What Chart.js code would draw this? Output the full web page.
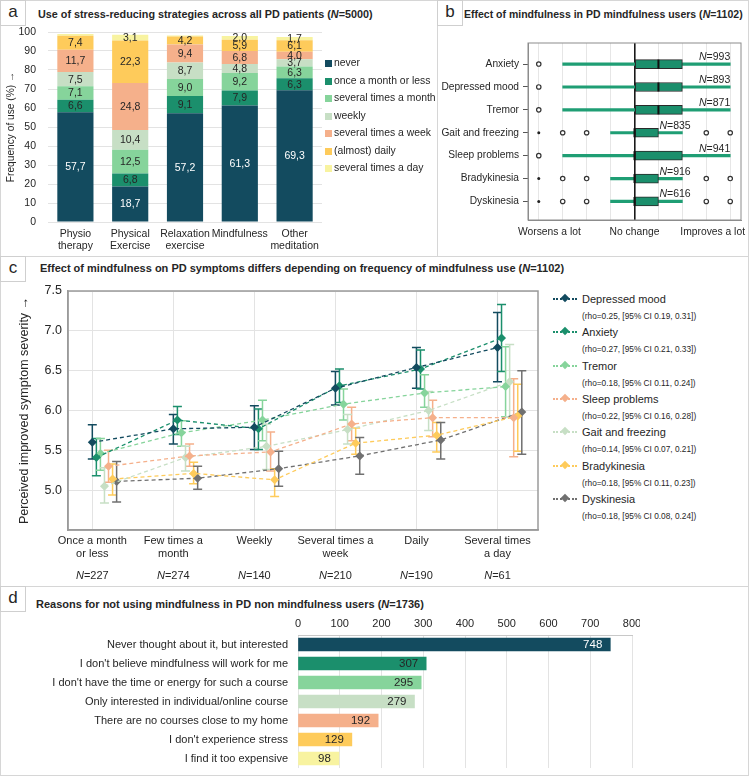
<!DOCTYPE html>
<html>
<head>
<meta charset="utf-8">
<script src="https://cdn.jsdelivr.net/npm/chart.js@4.4.1/dist/chart.umd.min.js"></script>
<style>
body { margin: 0; background: #fff; font-family: "Liberation Sans", Arial, "DejaVu Sans", sans-serif; color: #262626; }
#page { position: relative; width: 749px; height: 776px; overflow: hidden; }
.panel { position: absolute; border: 1px solid #d6d6d6; box-sizing: border-box; }
.letter { position: absolute; width: 26px; height: 26px; border: 1px solid #cfcfcf; box-sizing: border-box; background: #fff; font-size: 17px; line-height: 22px; text-align: center; }
.title { position: absolute; font-weight: bold; font-size: 11px; line-height: 14px; white-space: nowrap; }
.box { position: absolute; }
.litem { position: absolute; left: 0; font-size: 10.4px; line-height: 14px; white-space: nowrap; }
.lsq { position: absolute; left: 0; top: 4px; width: 7px; height: 7px; }
.ltxt { position: absolute; left: 9px; top: 0; }
.citem { position: absolute; left: 0; white-space: nowrap; }
.cmark { position: absolute; left: 0; top: 7px; width: 24px; height: 0; border-top: 2px dotted; }
.dia { position: absolute; left: 9px; top: -5px; width: 6px; height: 6px; transform: rotate(45deg); }
.cname { position: absolute; left: 29px; top: 0; font-size: 11px; line-height: 16px; }
.crho { position: absolute; left: 29px; top: 20px; font-size: 8.3px; line-height: 10px; }
</style>
</head>
<body>
<div id="page">
  <div class="panel" style="left:0;top:0;width:438px;height:257px"></div>
  <div class="panel" style="left:437px;top:0;width:312px;height:257px"></div>
  <div class="panel" style="left:0;top:256px;width:749px;height:331px"></div>
  <div class="panel" style="left:0;top:586px;width:749px;height:190px"></div>

  <div class="letter" style="left:0;top:0">a</div>
  <div class="letter" style="left:437px;top:0">b</div>
  <div class="letter" style="left:0;top:256px">c</div>
  <div class="letter" style="left:0;top:586px">d</div>

  <div class="title" style="left:38px;top:7px;font-size:10.8px">Use of stress-reducing strategies across all PD patients (<i>N</i>=5000)</div>
  <div class="title" style="left:464px;top:7px;font-size:10.5px">Effect of mindfulness in PD mindfulness users (<i>N</i>=1102)</div>
  <div class="title" style="left:40px;top:261px">Effect of mindfulness on PD symptoms differs depending on frequency of mindfulness use (<i>N</i>=1102)</div>
  <div class="title" style="left:36px;top:597px">Reasons for not using mindfulness in PD non mindfulness users (<i>N</i>=1736)</div>

  <div class="box" style="left:0;top:24px;width:326px;height:232px"><canvas id="chartA"></canvas></div>
  <div class="box" id="legA" style="left:325px;top:56px;width:110px;height:130px"></div>
  <div class="box" style="left:440px;top:26px;width:309px;height:228px"><canvas id="chartB"></canvas></div>
  <div class="box" style="left:0;top:283px;width:545px;height:300px"><canvas id="chartC"></canvas></div>
  <div class="box" id="legC" style="left:553px;top:291px;width:190px;height:240px"></div>
  <div class="box" style="left:0;top:610px;width:640px;height:163px"><canvas id="chartD"></canvas></div>
</div>

<script>
// ---------- data: panel a (percent of patients) ----------
const strategies = [['Physio', 'therapy'], ['Physical', 'Exercise'], ['Relaxation', 'exercise'], 'Mindfulness', ['Other', 'meditation']];
const freqCats = ['never', 'once a month or less', 'several times a month', 'weekly', 'several times a week', '(almost) daily', 'several times a day'];
const useNever     = [57.7, 18.7, 57.2, 61.3, 69.3];
const useOnceMonth = [6.6, 6.8, 9.1, 7.9, 6.3];
const useSevMonth  = [7.1, 12.5, 9.0, 9.2, 6.3];
const useWeekly    = [7.5, 10.4, 8.7, 4.8, 3.7];
const useSevWeek   = [11.7, 24.8, 9.4, 6.8, 4.0];
const useDaily     = [7.4, 22.3, 4.2, 5.9, 6.1];
const useSevDay    = [1.0, 3.1, 0.6, 2.0, 1.7];

// ---------- data: panel b (box plots, -4 worsens a lot .. 4 improves a lot) ----------
const symptomsB = ['Anxiety', 'Depressed mood', 'Tremor', 'Gait and freezing', 'Sleep problems', 'Bradykinesia', 'Dyskinesia'];
const effectTickLabels = { '-4': 'Worsens a lot', '0': 'No change', '4': 'Improves a lot' };
const boxQ1     = [0, 0, 0, 0, 0, 0, 0];
const boxQ3     = [2, 2, 2, 1, 2, 1, 1];
const boxMedian = [1, 1, 1, 0, 0, 0, 0];
const whiskerLo = [-3, -3, -3, -1, -3, -1, -1];
const whiskerHi = [4, 4, 4, 2, 4, 2, 2];
const outliers  = [[-4], [-4], [-4], [-3, -2, 3, 4], [-4], [-3, -2, 3, 4], [-3, -2, 3, 4]];
const extremes  = [[], [], [], [-4], [], [-4], [-4]];
const symptomN  = [993, 893, 871, 835, 941, 916, 616];

// ---------- data: panel c (mean and 95% CI per frequency) ----------
const freqLabels = [['Once a month', 'or less'], ['Few times a', 'month'], 'Weekly', ['Several times a', 'week'], 'Daily', ['Several times', 'a day']];
const freqN = [227, 274, 140, 210, 190, 61];

const moodMean = [5.60, 5.77, 5.79, 6.28, 6.54, 6.79];
const moodLo   = [5.39, 5.58, 5.51, 6.07, 6.28, 6.36];
const moodHi   = [5.82, 5.95, 6.06, 6.49, 6.79, 7.23];
const anxMean  = [5.41, 5.88, 5.77, 6.31, 6.52, 6.91];
const anxLo    = [5.18, 5.70, 5.51, 6.10, 6.27, 6.49];
const anxHi    = [5.65, 6.05, 6.02, 6.52, 6.76, 7.33];
const tremMean = [5.46, 5.72, 5.88, 6.08, 6.22, 6.30];
const tremLo   = [5.25, 5.55, 5.62, 5.88, 6.04, 5.92];
const tremHi   = [5.65, 5.87, 6.13, 6.27, 6.45, 6.80];
const sleepMean = [5.30, 5.43, 5.48, 5.83, 5.91, 5.91];
const sleepLo   = [5.10, 5.30, 5.24, 5.62, 5.67, 5.42];
const sleepHi   = [5.50, 5.58, 5.73, 6.04, 6.13, 6.40];
const gaitMean = [5.05, 5.41, 5.55, 5.76, 6.00, 6.36];
const gaitLo   = [4.84, 5.24, 5.26, 5.58, 5.75, 5.92];
const gaitHi   = [5.28, 5.55, 5.83, 5.95, 6.24, 6.83];
const bradyMean = [5.14, 5.21, 5.13, 5.59, 5.69, 5.93];
const bradyLo   = [4.94, 5.08, 4.92, 5.45, 5.48, 5.49];
const bradyHi   = [5.33, 5.35, 5.27, 5.78, 5.85, 6.33];
const dyskMean = [5.11, 5.15, 5.27, 5.43, 5.63, 5.98];
const dyskLo   = [4.85, 5.01, 5.05, 5.20, 5.39, 5.45];
const dyskHi   = [5.36, 5.30, 5.49, 5.66, 5.85, 6.50];

const symptomsC = ['Depressed mood', 'Anxiety', 'Tremor', 'Sleep problems', 'Gait and freezing', 'Bradykinesia', 'Dyskinesia'];
const rhoText = [
  '(rho=0.25, [95% CI 0.19, 0.31])',
  '(rho=0.27, [95% CI 0.21, 0.33])',
  '(rho=0.18, [95% CI 0.11, 0.24])',
  '(rho=0.22, [95% CI 0.16, 0.28])',
  '(rho=0.14, [95% CI 0.07, 0.21])',
  '(rho=0.18, [95% CI 0.11, 0.23])',
  '(rho=0.18, [95% CI 0.08, 0.24])'
];

// ---------- data: panel d ----------
const reasons = [
  'Never thought about it, but interested',
  "I don't believe mindfulness will work for me",
  "I don't have the time or energy for such a course",
  'Only interested in individual/online course',
  'There are no courses close to my home',
  "I don't experience stress",
  'I find it too expensive'
];
const reasonCounts = [748, 307, 295, 279, 192, 129, 98];

// ---------- styling ----------
const FONT = '"Liberation Sans", Arial, "DejaVu Sans", sans-serif';
Chart.defaults.font.family = FONT;
Chart.defaults.color = '#262626';
Chart.defaults.animation = false;

const palette = ['#134b5f', '#1b8f6c', '#86d49b', '#c7dfc5', '#f5b08b', '#fecb5b', '#f8f3a0'];
const symptomColors = ['#134b5f', '#1b8f6c', '#86d49b', '#f5b08b', '#c7dfc5', '#fecb5b', '#707070'];
const symptomSlot = [0, 1, 2, 4, 3, 5, 6]; // horizontal dodge order within a category
const DODGE = 0.05;

// fixed axis sizes, no extra padding for overhanging tick labels
function fixWidth(w) {
  return s => { s.width = w; s.paddingTop = 0; s.paddingBottom = 0; };
}
function fixHeight(h) {
  return s => { s.height = h; s.paddingLeft = 0; s.paddingRight = 0; };
}

// frame around the plot area
const framePlugin = {
  id: 'frame',
  afterDraw(chart, args, opts) {
    if (!opts.color) return;
    const { ctx, chartArea: a } = chart;
    ctx.save();
    ctx.strokeStyle = opts.color;
    ctx.lineWidth = opts.width || 1;
    ctx.strokeRect(a.left, a.top, a.right - a.left, a.bottom - a.top);
    ctx.restore();
  }
};
Chart.register(framePlugin);

// text with an italic N
function drawNText(ctx, n, x, y, size, align) {
  const rest = '=' + n;
  ctx.font = 'italic ' + size + 'px ' + FONT;
  const wN = ctx.measureText('N').width;
  ctx.font = size + 'px ' + FONT;
  const wR = ctx.measureText(rest).width;
  let left = x;
  if (align === 'center') left = x - (wN + wR) / 2;
  if (align === 'right') left = x - wN - wR;
  ctx.textAlign = 'left';
  ctx.font = 'italic ' + size + 'px ' + FONT;
  ctx.fillText('N', left, y);
  ctx.font = size + 'px ' + FONT;
  ctx.fillText(rest, left + wN, y);
}

// ---------- panel a ----------
const stackLabels = {
  id: 'stackLabels',
  afterDatasetsDraw(chart) {
    const ctx = chart.ctx;
    ctx.save();
    ctx.font = '10.5px ' + FONT;
    ctx.textAlign = 'center';
    ctx.textBaseline = 'middle';
    chart.data.datasets.forEach((ds, di) => {
      chart.getDatasetMeta(di).data.forEach((bar, i) => {
        const v = ds.data[i];
        if (v < 1.5) return;
        ctx.fillStyle = di === 0 ? '#ffffff' : '#262626';
        ctx.fillText(v.toFixed(1).replace('.', ','), bar.x, (bar.y + bar.base) / 2 + 0.5);
      });
    });
    ctx.restore();
  }
};

const useSeries = [useNever, useOnceMonth, useSevMonth, useWeekly, useSevWeek, useDaily, useSevDay];
new Chart(document.getElementById('chartA'), {
  type: 'bar',
  data: {
    labels: strategies,
    datasets: useSeries.map((d, i) => ({
      label: freqCats[i],
      data: d,
      backgroundColor: palette[i],
      barPercentage: 0.66,
      categoryPercentage: 1
    }))
  },
  options: {
    responsive: true,
    maintainAspectRatio: false,
    layout: { padding: { top: 8, right: 4 } },
    plugins: { legend: { display: false }, tooltip: { enabled: false } },
    scales: {
      x: {
        stacked: true,
        grid: { display: false, drawTicks: false },
        border: { display: false },
        ticks: { font: { size: 10.5, lineHeight: 1.18 }, padding: 6, maxRotation: 0, autoSkip: false },
        afterFit: fixHeight(34)
      },
      y: {
        stacked: true,
        min: 0,
        max: 100,
        ticks: { stepSize: 10, padding: 12, font: { size: 10.5 } },
        grid: { color: '#e3e3e3', drawTicks: false },
        border: { display: false },
        title: { display: true, text: 'Frequency of use (%) →', font: { size: 10.2 }, padding: { top: 5, bottom: 0 } },
        afterFit: fixWidth(48)
      }
    }
  },
  plugins: [stackLabels]
});

// legend a
const legA = document.getElementById('legA');
freqCats.forEach((name, i) => {
  const it = document.createElement('div');
  it.className = 'litem';
  it.style.top = (i * 17.5) + 'px';
  it.innerHTML = '<span class="lsq" style="background:' + palette[i] + '"></span><span class="ltxt">' + name + '</span>';
  legA.appendChild(it);
});

// ---------- panel b ----------
const boxNLabels = {
  id: 'boxNLabels',
  afterDatasetsDraw(chart) {
    const { ctx, scales: { x, y } } = chart;
    ctx.save();
    ctx.fillStyle = '#262626';
    ctx.textBaseline = 'alphabetic';
    symptomN.forEach((n, i) => {
      const yy = y.getPixelForValue(i) - 4;
      if (whiskerHi[i] >= 4) drawNText(ctx, n, x.getPixelForValue(whiskerHi[i]), yy, 10.5, 'right');
      else drawNText(ctx, n, x.getPixelForValue(boxQ3[i]) + 1, yy, 10.5, 'left');
    });
    // x tick labels kept inside the panel
    ctx.font = '10.3px ' + FONT;
    ctx.textBaseline = 'middle';
    ctx.textAlign = 'left';
    Object.keys(effectTickLabels).forEach(k => {
      const txt = effectTickLabels[k];
      const w = ctx.measureText(txt).width;
      let left = x.getPixelForValue(Number(k)) - w / 2;
      left = Math.max(left, chart.chartArea.left - 10);
      left = Math.min(left, chart.width - 4 - w);
      ctx.fillText(txt, left, chart.chartArea.bottom + 12);
    });
    ctx.restore();
  }
};

new Chart(document.getElementById('chartB'), {
  type: 'bar',
  data: {
    datasets: [
      {
        type: 'line', label: 'median',
        data: symptomsB.map((_, i) => ({ x: boxMedian[i], y: i })),
        showLine: false, pointStyle: 'line', rotation: 90, pointRadius: 4.5,
        borderColor: '#111', borderWidth: 2
      },
      {
        type: 'line', label: 'outlier',
        data: outliers.flatMap((vals, i) => vals.map(v => ({ x: v, y: i }))),
        showLine: false, pointStyle: 'circle', pointRadius: 2.2,
        borderColor: '#333', backgroundColor: '#fff', borderWidth: 1.2
      },
      {
        type: 'line', label: 'extreme',
        data: extremes.flatMap((vals, i) => vals.map(v => ({ x: v, y: i }))),
        showLine: false, pointStyle: 'circle', pointRadius: 1.5,
        borderColor: '#222', backgroundColor: '#222', borderWidth: 0
      },
      {
        label: 'box',
        data: symptomsB.map((_, i) => ({ y: i, x: [boxQ1[i], boxQ3[i]] })),
        backgroundColor: '#1b8f6c', borderColor: '#2a2a2a', borderWidth: 1,
        borderSkipped: false, barThickness: 9, grouped: false
      },
      {
        label: 'whisker',
        data: symptomsB.map((_, i) => ({ y: i, x: [whiskerLo[i], whiskerHi[i]] })),
        backgroundColor: '#1f9e74', barThickness: 2.5, grouped: false
      }
    ]
  },
  options: {
    indexAxis: 'y',
    responsive: true,
    maintainAspectRatio: false,
    layout: { padding: { top: 17, right: 8 } },
    plugins: { legend: { display: false }, tooltip: { enabled: false }, frame: { color: '#8c8c8c', width: 1 } },
    scales: {
      x: {
        type: 'linear', min: -4.45, max: 4.45,
        afterBuildTicks: s => { s.ticks = [-4, -3, -2, -1, 0, 1, 2, 3, 4].map(v => ({ value: v })); },
        ticks: { display: false },
        grid: {
          color: c => (c.tick && c.tick.value === 0) ? '#1a1a1a' : '#e6e6e6',
          lineWidth: c => (c.tick && c.tick.value === 0) ? 1.6 : 1,
          drawTicks: false
        },
        border: { color: '#8c8c8c' },
        afterFit: fixHeight(34)
      },
      y: {
        type: 'linear', reverse: true, offset: false, min: -0.92, max: 6.81,
        afterBuildTicks: s => { s.ticks = symptomsB.map((_, i) => ({ value: i })); },
        ticks: { callback: v => symptomsB[v], font: { size: 10.2 }, padding: 4, autoSkip: false },
        grid: { drawOnChartArea: false, offset: false, tickLength: 5, color: '#555' },
        border: { color: '#8c8c8c' },
        afterFit: fixWidth(88)
      }
    }
  },
  plugins: [boxNLabels]
});

// ---------- panel c ----------
const errorBars = {
  id: 'errorBars',
  beforeDatasetsDraw(chart) {
    const { ctx, scales: { x, y } } = chart;
    ctx.save();
    chart.data.datasets.forEach(ds => {
      ctx.strokeStyle = ds.borderColor;
      ctx.lineWidth = 1.5;
      ds.data.forEach((p, i) => {
        const px = x.getPixelForValue(p.x);
        const top = y.getPixelForValue(ds.errHi[i]);
        const bot = y.getPixelForValue(ds.errLo[i]);
        ctx.beginPath();
        ctx.moveTo(px, top); ctx.lineTo(px, bot);
        ctx.moveTo(px - 4.5, top); ctx.lineTo(px + 4.5, top);
        ctx.moveTo(px - 4.5, bot); ctx.lineTo(px + 4.5, bot);
        ctx.stroke();
      });
    });
    ctx.restore();
  },
  afterDraw(chart) {
    const { ctx, scales: { x } } = chart;
    ctx.save();
    ctx.fillStyle = '#262626';
    ctx.textBaseline = 'middle';
    freqN.forEach((n, i) => drawNText(ctx, n, x.getPixelForValue(i), chart.chartArea.bottom + 46, 11, 'center'));
    ctx.restore();
  }
};

const cMeans = [moodMean, anxMean, tremMean, sleepMean, gaitMean, bradyMean, dyskMean];
const cLos = [moodLo, anxLo, tremLo, sleepLo, gaitLo, bradyLo, dyskLo];
const cHis = [moodHi, anxHi, tremHi, sleepHi, gaitHi, bradyHi, dyskHi];

new Chart(document.getElementById('chartC'), {
  type: 'line',
  data: {
    datasets: symptomsC.map((name, si) => ({
      label: name,
      data: cMeans[si].map((v, i) => ({ x: i + symptomSlot[si] * DODGE, y: v })),
      errLo: cLos[si],
      errHi: cHis[si],
      borderColor: symptomColors[si],
      backgroundColor: symptomColors[si],
      borderDash: [4, 3],
      borderWidth: 1.3,
      fill: false,
      pointStyle: 'rectRot',
      pointRadius: 4.5,
      pointBorderWidth: 0
    }))
  },
  options: {
    responsive: true,
    maintainAspectRatio: false,
    layout: { padding: { top: 8, right: 7 } },
    plugins: { legend: { display: false }, tooltip: { enabled: false }, frame: { color: '#9a9a9a', width: 1.5 } },
    scales: {
      x: {
        type: 'linear', min: -0.3, max: 5.5,
        afterBuildTicks: s => { s.ticks = freqLabels.map((_, i) => ({ value: i })); },
        ticks: { callback: v => freqLabels[v], font: { size: 11, lineHeight: 1.2 }, padding: 4, maxRotation: 0, autoSkip: false },
        grid: { color: '#e3e3e3', drawTicks: false },
        border: { color: '#9a9a9a', width: 1.5 },
        afterFit: fixHeight(53)
      },
      y: {
        min: 4.5, max: 7.5,
        ticks: { stepSize: 0.5, callback: v => v === 4.5 ? '' : v.toFixed(1), font: { size: 12.5 }, padding: 6 },
        grid: { color: '#e3e3e3', drawTicks: false },
        border: { color: '#9a9a9a', width: 1.5 },
        title: { display: true, text: 'Perceived improved symptom severity →', font: { size: 12.5 }, padding: { top: 17, bottom: 0 } },
        afterFit: fixWidth(68)
      }
    }
  },
  plugins: [errorBars]
});

// legend c
const legC = document.getElementById('legC');
symptomsC.forEach((name, i) => {
  const it = document.createElement('div');
  it.className = 'citem';
  it.style.top = (i * 33.3) + 'px';
  it.innerHTML = '<span class="cmark" style="border-top-color:' + symptomColors[i] + '"><span class="dia" style="background:' + symptomColors[i] + '"></span></span>' +
    '<span class="cname">' + name + '</span><span class="crho">' + rhoText[i] + '</span>';
  legC.appendChild(it);
});

// ---------- panel d ----------
const barValues = {
  id: 'barValues',
  afterDatasetsDraw(chart) {
    const ctx = chart.ctx;
    ctx.save();
    ctx.font = '11.5px ' + FONT;
    ctx.textAlign = 'right';
    ctx.textBaseline = 'middle';
    chart.getDatasetMeta(0).data.forEach((bar, i) => {
      ctx.fillStyle = i === 0 ? '#ffffff' : '#262626';
      ctx.fillText(String(reasonCounts[i]), bar.x - 8, bar.y + 0.5);
    });
    ctx.restore();
  }
};

new Chart(document.getElementById('chartD'), {
  type: 'bar',
  data: {
    labels: reasons,
    datasets: [{ data: reasonCounts, backgroundColor: palette, barThickness: 13 }]
  },
  options: {
    indexAxis: 'y',
    responsive: true,
    maintainAspectRatio: false,
    layout: { padding: { right: 8, bottom: 5 } },
    plugins: { legend: { display: false }, tooltip: { enabled: false } },
    scales: {
      x: {
        position: 'top', min: 0, max: 800,
        ticks: { stepSize: 100, font: { size: 11 }, padding: 4 },
        grid: { color: '#e3e3e3', drawTicks: false },
        border: { color: '#c8c8c8' },
        afterFit: fixHeight(25)
      },
      y: {
        grid: { display: false, drawTicks: false },
        border: { display: false },
        ticks: { font: { size: 11 }, padding: 10, autoSkip: false },
        afterFit: fixWidth(298)
      }
    }
  },
  plugins: [barValues]
});
</script>
</body>
</html>
